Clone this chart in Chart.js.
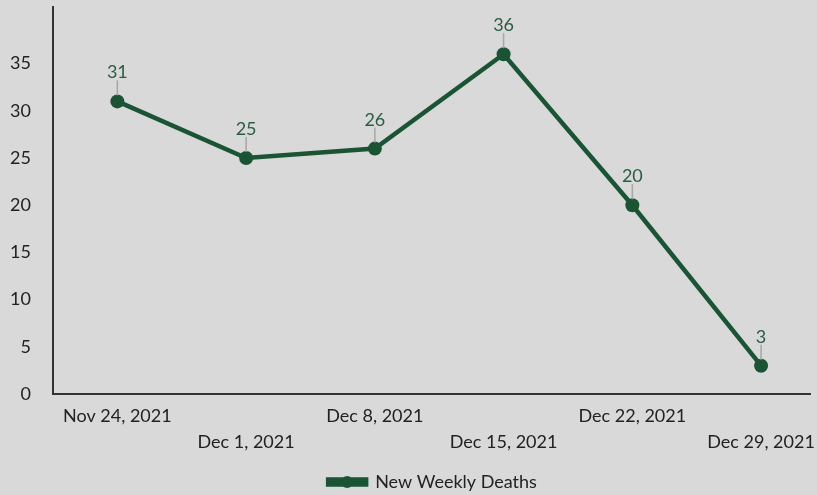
<!DOCTYPE html>
<html>
<head>
<meta charset="utf-8">
<script src="https://cdn.jsdelivr.net/npm/chart.js@4"></script>
<style>
  html, body { margin: 0; padding: 0; background: #d9d9d9; overflow: hidden; }
  canvas { display: block; }
</style>
</head>
<body>
<canvas id="deaths" width="817" height="495"></canvas>
<script>
var weeks = ["Nov 24, 2021", "Dec 1, 2021", "Dec 8, 2021", "Dec 15, 2021", "Dec 22, 2021", "Dec 29, 2021"];
var newWeeklyDeaths = [31, 25, 26, 36, 20, 3];
var yTicks = [0, 5, 10, 15, 20, 25, 30, 35];

var green = "#1b5434";
var fontName = "Lato, 'Open Sans', sans-serif";

// value labels above each point, with a grey leader line
var pointLabels = {
    id: "pointLabels",
    afterDatasetsDraw: function(chart) {
        var ctx = chart.ctx;
        var meta = chart.getDatasetMeta(0);
        ctx.save();
        ctx.font = "18px " + fontName;
        ctx.textAlign = "center";
        ctx.textBaseline = "alphabetic";
        meta.data.forEach(function(pt, i) {
            ctx.strokeStyle = "#a6a6a6";
            ctx.lineWidth = 1.5;
            ctx.beginPath();
            ctx.moveTo(pt.x, pt.y - 6);
            ctx.lineTo(pt.x, pt.y - 21);
            ctx.stroke();
            ctx.fillStyle = "#2b5c44";
            ctx.fillText(newWeeklyDeaths[i], pt.x, pt.y - 23);
        });
        ctx.restore();
    }
};

// move the legend a little (under the plot area, lower) and put a dot on its line
var legendTweak = {
    id: "legendTweak",
    beforeDraw: function(chart) {
        var lg = chart.legend;
        lg.left = chart.chartArea.left + 2;
        lg.right = chart.chartArea.right;
        lg.top = chart.height - 1 - lg.height + 7;
    },
    afterDraw: function(chart) {
        var lg = chart.legend;
        var boxes = lg.legendHitBoxes;
        if (!boxes || !boxes.length) return;
        var pad = lg.options.labels.padding;
        var rowLeft = (lg.left + pad + lg.right - lg.lineWidths[0]) / 2;
        var ctx = chart.ctx;
        ctx.save();
        ctx.fillStyle = green;
        ctx.beginPath();
        ctx.arc(rowLeft + lg.options.labels.boxWidth / 2, lg.top + pad + boxes[0].height / 2, 6, 0, Math.PI * 2);
        ctx.fill();
        ctx.restore();
    }
};

var config = {
    type: "line",
    data: {
        datasets: [{
            label: "New Weekly Deaths",
            data: newWeeklyDeaths.map(function(v, i) { return { x: i, y: v }; }),
            borderColor: green,
            backgroundColor: green,
            borderWidth: 4.5,
            pointRadius: 7,
            pointBackgroundColor: green,
            pointBorderWidth: 0,
            tension: 0
        }]
    },
    options: {
        responsive: false,
        animation: false,
        layout: { padding: { top: 5, right: 0, left: 0, bottom: 1 } },
        plugins: {
            tooltip: { enabled: false },
            legend: {
                position: "bottom",
                labels: {
                    color: "#222",
                    font: { family: fontName, size: 18 },
                    boxWidth: 38,
                    boxHeight: 5,
                    padding: 3
                }
            }
        },
        scales: {
            x: {
                type: "linear",
                min: -0.5,
                max: 5.38,
                // invisible tick marks give the gap under the axis
                grid: { display: false, drawTicks: true, tickLength: 9 },
                border: { color: "#333", width: 2 },
                afterBuildTicks: function(scale) {
                    scale.ticks = weeks.map(function(w, i) { return { value: i }; });
                },
                afterFit: function(scale) {
                    scale.height = 69;
                    scale.paddingLeft = 0;
                    scale.paddingRight = 0;
                },
                ticks: {
                    color: "#222",
                    font: { family: fontName, size: 18, lineHeight: 1.45 },
                    maxRotation: 0,
                    autoSkip: false,
                    padding: 0,
                    callback: function(v) {
                        var l = weeks[v];
                        return v % 2 ? ["", l] : [l, ""];
                    }
                }
            },
            y: {
                min: 0,
                max: 41,
                grid: { display: false, drawTicks: false },
                border: { color: "#333", width: 2 },
                afterBuildTicks: function(scale) {
                    scale.ticks = yTicks.map(function(v) { return { value: v }; });
                },
                afterFit: function(scale) {
                    scale.width = 53;
                    scale.paddingTop = 0;
                    scale.paddingBottom = 0;
                },
                ticks: {
                    color: "#222",
                    font: { family: fontName, size: 18 },
                    padding: 22
                }
            }
        }
    },
    plugins: [pointLabels, legendTweak]
};

var deathsChart = new Chart(document.getElementById("deaths"), config);
</script>
</body>
</html>
